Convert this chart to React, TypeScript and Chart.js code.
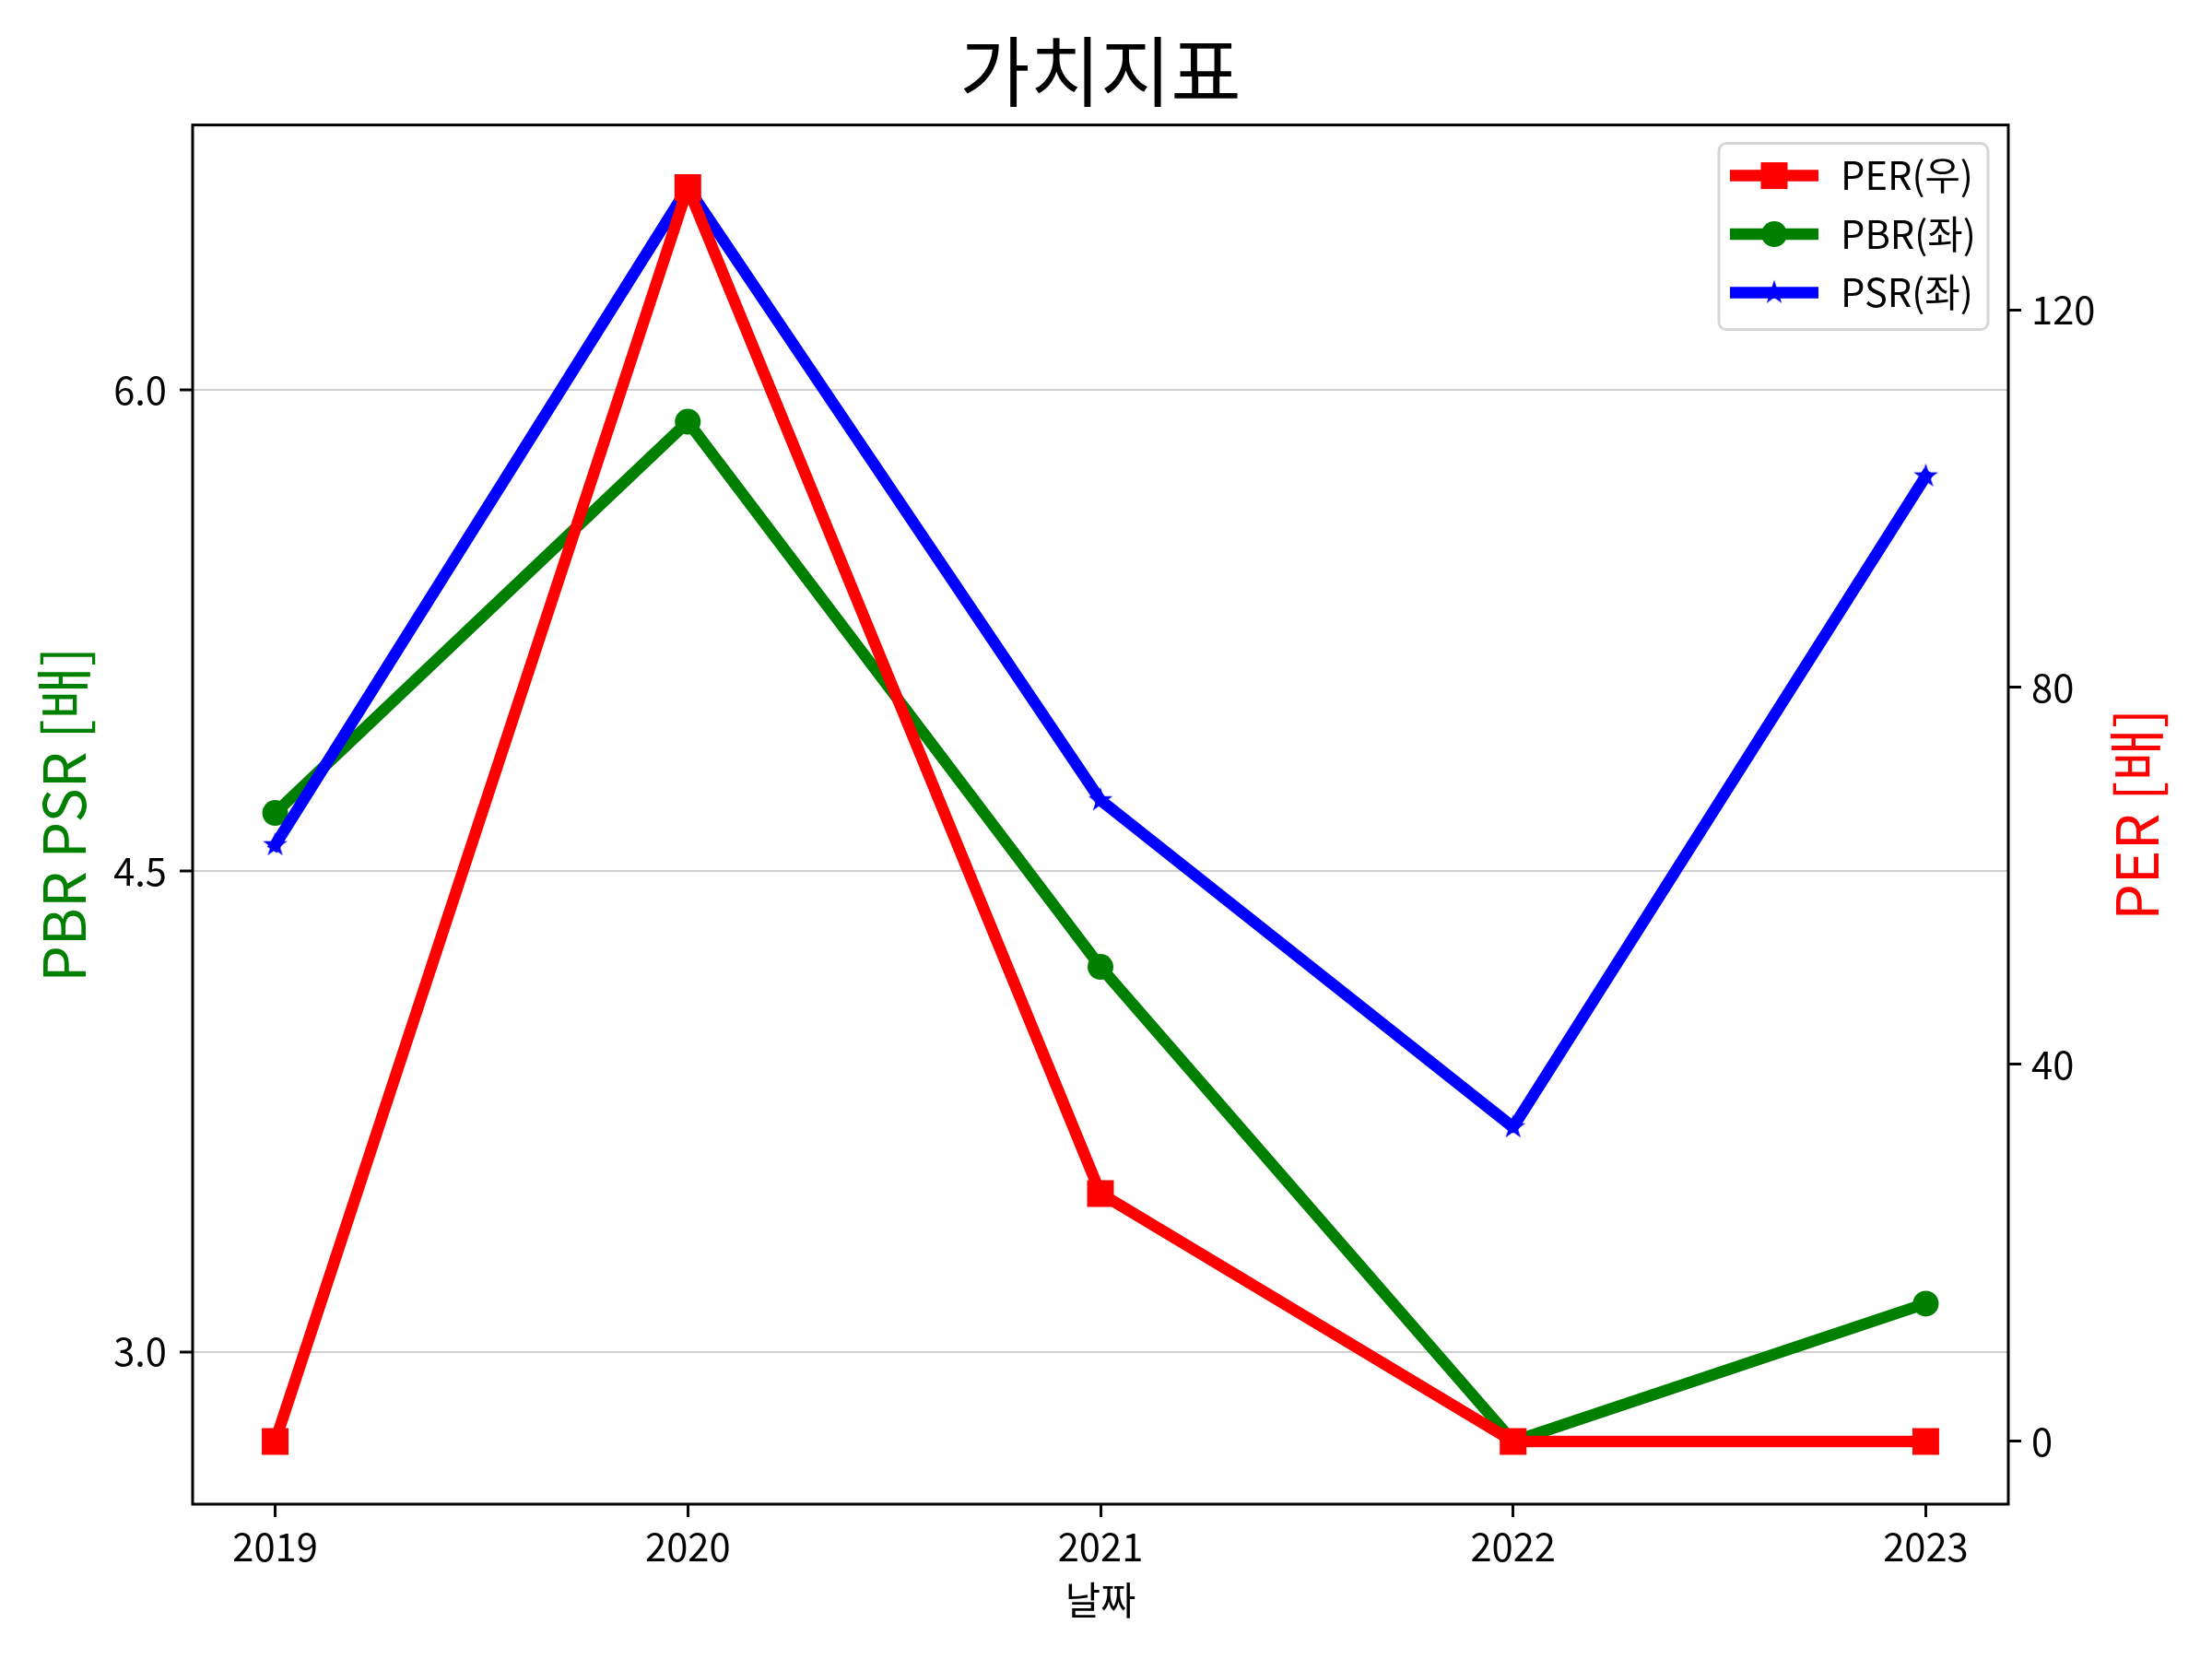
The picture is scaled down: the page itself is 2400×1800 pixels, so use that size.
import { useEffect, useRef } from "react";
import { Chart, registerables } from "chart.js";

Chart.register(...registerables);

const YEARS = [2019, 2020, 2021, 2022, 2023];
const PER = [0, 133, 26.3, 0, 0];
const PBR = [4.68, 5.9, 4.2, 2.72, 3.15];
const PSR = [4.58, 6.63, 4.72, 3.7, 5.73];
const LEFT_TICKS = [3.0, 4.5, 6.0];
const RIGHT_TICKS = [0, 40, 80, 120];

const FONT = '"Noto Sans CJK KR", "Noto Sans", sans-serif';
const W = 2400;
const H = 1800;
const LW = 12.5;

// matplotlib-style 5% margins
function limits(values: number[]) {
  const lo = Math.min(...values);
  const hi = Math.max(...values);
  const m = (hi - lo) * 0.05;
  return { min: lo - m, max: hi + m };
}

function starImage(color: string, r: number) {
  const c = document.createElement("canvas");
  const s = Math.ceil(r * 2 + 2);
  c.width = s;
  c.height = s;
  const ctx = c.getContext("2d")!;
  ctx.translate(s / 2, s / 2);
  ctx.beginPath();
  for (let i = 0; i < 10; i++) {
    const rad = i % 2 === 0 ? r : r * 0.381;
    const a = -Math.PI / 2 + (i * Math.PI) / 5;
    ctx.lineTo(rad * Math.cos(a), rad * Math.sin(a));
  }
  ctx.closePath();
  ctx.fillStyle = color;
  ctx.fill();
  return c;
}

const framePlugin = {
  id: "frame",
  afterDatasetsDraw(chart: any) {
    const { ctx, chartArea: a } = chart;
    ctx.save();
    ctx.strokeStyle = "#000";
    ctx.lineWidth = 3;
    ctx.strokeRect(a.left, a.top, a.right - a.left, a.bottom - a.top);
    ctx.restore();
  },
};

const rightTitlePlugin = {
  id: "rightTitle",
  afterDraw(chart: any) {
    const { ctx, chartArea: a } = chart;
    const s = chart.scales.y1;
    ctx.save();
    ctx.translate(s.right - 82, (a.top + a.bottom) / 2);
    ctx.rotate(-Math.PI / 2);
    ctx.font = `62.5px ${FONT}`;
    ctx.fillStyle = "#ff0000";
    ctx.textAlign = "center";
    ctx.textBaseline = "middle";
    ctx.fillText("PER [배]", 0, 0);
    ctx.restore();
  },
};

const legendPlugin = {
  id: "mplLegend",
  afterDraw(chart: any) {
    const { ctx, chartArea: a } = chart;
    const boxW = 292;
    const boxH = 202;
    const x0 = a.right - 22 - boxW;
    const y0 = a.top + 20;
    ctx.save();
    ctx.beginPath();
    ctx.roundRect(x0, y0, boxW, boxH, 8);
    ctx.fillStyle = "rgba(255,255,255,0.8)";
    ctx.fill();
    ctx.strokeStyle = "#d6d6d6";
    ctx.lineWidth = 3;
    ctx.stroke();

    ctx.font = `41.7px ${FONT}`;
    ctx.textBaseline = "middle";
    ctx.textAlign = "left";
    chart.data.datasets.forEach((ds: any, i: number) => {
      const cy = y0 + 35 + i * 63.5;
      const lx0 = x0 + 12;
      const lx1 = lx0 + 96;
      const cx = (lx0 + lx1) / 2;
      ctx.strokeStyle = ds.borderColor;
      ctx.lineWidth = LW;
      ctx.lineCap = "butt";
      ctx.beginPath();
      ctx.moveTo(lx0, cy);
      ctx.lineTo(lx1, cy);
      ctx.stroke();
      ctx.fillStyle = ds.backgroundColor;
      if (ds.pointStyle === "rect") {
        ctx.fillRect(cx - 14.5, cy - 14.5, 29, 29);
      } else if (ds.pointStyle === "circle") {
        ctx.beginPath();
        ctx.arc(cx, cy, 14, 0, Math.PI * 2);
        ctx.fill();
      } else if (ds.pointStyle instanceof HTMLCanvasElement) {
        const img = ds.pointStyle;
        ctx.drawImage(img, cx - img.width / 2, cy - img.height / 2);
      }
      ctx.fillStyle = "#000";
      ctx.fillText(ds.label, lx1 + 24, cy);
    });
    ctx.restore();
  },
};

export default function App() {
  const canvasRef = useRef<HTMLCanvasElement>(null);
  const chartRef = useRef<Chart | null>(null);

  useEffect(() => {
    if (!canvasRef.current) return;
    chartRef.current?.destroy();

    Chart.defaults.font.family = FONT;
    Chart.defaults.color = "#000";

    const xLim = limits(YEARS);
    const leftLim = limits([...PBR, ...PSR]);
    const rightLim = limits(PER);
    const star = starImage("#0000ff", 14);

    const line = {
      borderWidth: LW,
      borderJoinStyle: "round" as const,
      borderCapStyle: "square" as const,
      tension: 0,
      pointBorderWidth: 0,
    };

    chartRef.current = new Chart(canvasRef.current, {
      type: "line",
      data: {
        datasets: [
          {
            ...line,
            label: "PER(우)",
            data: YEARS.map((x, i) => ({ x, y: PER[i] })),
            yAxisID: "y1",
            borderColor: "#ff0000",
            backgroundColor: "#ff0000",
            pointStyle: "rect",
            pointRadius: 20.5,
            order: 0,
          },
          {
            ...line,
            label: "PBR(좌)",
            data: YEARS.map((x, i) => ({ x, y: PBR[i] })),
            yAxisID: "y",
            borderColor: "#008000",
            backgroundColor: "#008000",
            pointStyle: "circle",
            pointRadius: 14,
            order: 2,
          },
          {
            ...line,
            label: "PSR(좌)",
            data: YEARS.map((x, i) => ({ x, y: PSR[i] })),
            yAxisID: "y",
            borderColor: "#0000ff",
            backgroundColor: "#0000ff",
            pointStyle: star as any,
            pointRadius: 14,
            order: 1,
          },
        ],
      },
      options: {
        animation: false,
        responsive: false,
        devicePixelRatio: 1,
        layout: { padding: 0 },
        events: [],
        plugins: {
          legend: { display: false },
          tooltip: { enabled: false },
          title: {
            display: true,
            text: "가치지표",
            fullSize: false,
            color: "#000",
            font: { size: 83, weight: "normal", family: FONT },
            padding: { top: 28, bottom: 8 },
          },
        },
        scales: {
          x: {
            type: "linear",
            position: "bottom",
            min: xLim.min,
            max: xLim.max,
            afterBuildTicks: (s: any) => {
              s.ticks = YEARS.map((v) => ({ value: v }));
            },
            afterFit: (s: any) => {
              s.height = 168;
            },
            ticks: {
              font: { size: 41.7 },
              padding: 7,
              maxRotation: 0,
              autoSkip: false,
              callback: (v: any) => String(v),
            },
            grid: {
              drawOnChartArea: false,
              drawTicks: true,
              tickLength: 14,
              tickWidth: 3,
              tickColor: "#000",
            },
            border: { display: false },
            title: {
              display: true,
              text: "날짜",
              font: { size: 41.7 },
              padding: { bottom: 39 },
            },
          },
          y: {
            type: "linear",
            position: "left",
            min: leftLim.min,
            max: leftLim.max,
            afterBuildTicks: (s: any) => {
              s.ticks = LEFT_TICKS.map((v) => ({ value: v }));
            },
            afterFit: (s: any) => {
              s.width = 209;
            },
            ticks: {
              font: { size: 41.7 },
              padding: 14,
              callback: (v: any) => Number(v).toFixed(1),
            },
            grid: {
              color: "#d0d0d0",
              lineWidth: 2,
              drawTicks: true,
              tickLength: 14,
              tickWidth: 3,
              tickColor: "#000",
            },
            border: { display: false },
            title: {
              display: true,
              text: "PBR PSR [배]",
              color: "#008000",
              font: { size: 62.5 },
              padding: { top: 32 },
            },
          },
          y1: {
            type: "linear",
            position: "right",
            min: rightLim.min,
            max: rightLim.max,
            afterBuildTicks: (s: any) => {
              s.ticks = RIGHT_TICKS.map((v) => ({ value: v }));
            },
            afterFit: (s: any) => {
              s.width = W - 2179;
            },
            ticks: {
              font: { size: 41.7 },
              padding: 11,
              callback: (v: any) => String(v),
            },
            grid: {
              drawOnChartArea: false,
              drawTicks: true,
              tickLength: 14,
              tickWidth: 3,
              tickColor: "#000",
            },
            border: { display: false },
          },
        },
      },
      plugins: [framePlugin, rightTitlePlugin, legendPlugin],
    });

    return () => {
      chartRef.current?.destroy();
      chartRef.current = null;
    };
  }, []);

  return (
    <div style={{ position: "absolute", left: 0, top: 0, width: W, height: H, background: "#fff" }}>
      <canvas ref={canvasRef} width={W} height={H} style={{ display: "block" }} />
    </div>
  );
}
